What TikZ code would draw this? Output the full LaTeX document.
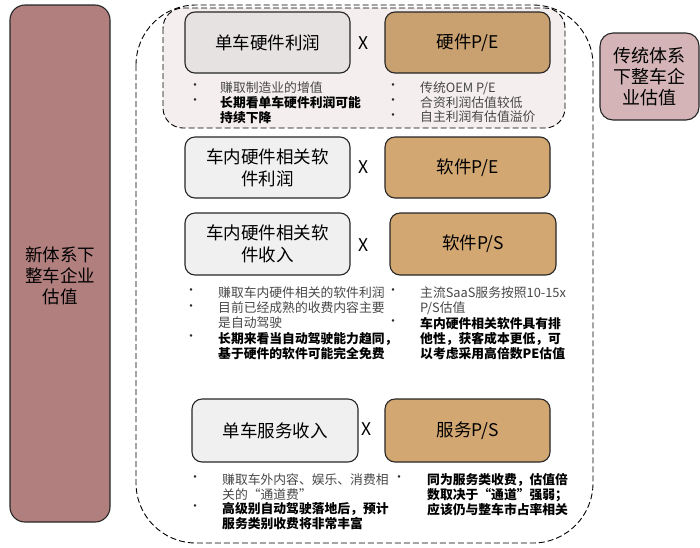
\documentclass[tikz,border=0pt]{standalone}
\usepackage{fontspec}
\setmainfont{Noto Sans CJK SC}
\definecolor{newval}{RGB}{178,127,127}
\definecolor{oldval}{RGB}{212,180,182}
\definecolor{pinkarea}{RGB}{245,238,238}
\definecolor{grayfill}{RGB}{240,240,240}
\definecolor{graytop}{RGB}{230,226,226}
\definecolor{tanfill}{RGB}{211,167,114}
\definecolor{tantop}{RGB}{201,160,111}
\begin{document}
\begin{tikzpicture}[x=1pt,y=-1pt,
  box/.style={draw=black!85, line width=1.1pt, rounded corners=10pt, inner sep=2pt,
    align=center, font=\fontsize{17.5}{22}\selectfont},
  note/.style={anchor=north west, inner sep=0pt, align=left,
    font=\fontsize{12.8}{15.2}\selectfont, text=black!72},
  bnote/.style={note, font=\fontsize{12.8}{15.2}\selectfont\bfseries, text=black},
  bulletmark/.style={inner sep=0pt, text=black!85, font=\fontsize{12}{14}\selectfont},
  times/.style={inner sep=0pt, font=\fontsize{17.5}{20}\selectfont},
  region/.style={line width=0.9pt, dash pattern=on 6pt off 3pt}
]
  \useasboundingbox (0,0) rectangle (700,547);

  % valuation labels
  \node[box, fill=newval, rounded corners=15pt, minimum width=100pt, minimum height=517pt] (newsys) at (60,263.5) {};
  \node[inner sep=0pt, align=center, font=\fontsize{17.5}{21}\selectfont] (newsyslabel) at (60,276) {新体系下\\整车企业\\估值};
  \node[box, fill=oldval, rounded corners=13pt, minimum width=99pt, minimum height=87pt,
    font=\fontsize{18}{21}\selectfont] (oldsys) at (649.5,76.5) {传统体系\\下整车企\\业估值};

  % dashed regions
  \draw[region, rounded corners=60pt] (136,5) rectangle (593,543);
  \draw[region, fill=pinkarea, rounded corners=20pt] (163,8) rectangle (565,128);

  % hardware
  \node[box, fill=graytop, minimum width=165pt, minimum height=61pt] (hwprofit) at (267.5,42.5) {单车硬件利润};
  \node[times] (x1) at (364,43) {X};
  \node[box, fill=tantop, minimum width=165pt, minimum height=61pt] (hwpe) at (467.5,42.5) {硬件P/E};
  \node[bulletmark] (b1) at (195,87) {•};
  \node[note] (n1) at (220,81) {赚取制造业的增值};
  \node[bulletmark] (b2) at (195,102) {•};
  \node[bnote] (n2) at (220,96) {长期看单车硬件利润可能\\持续下降};
  \node[bulletmark] (b3) at (393,87) {•};
  \node[note] (n3) at (420,81) {传统OEM P/E};
  \node[bulletmark] (b4) at (393,102) {•};
  \node[note] (n4) at (420,96) {合资利润估值较低};
  \node[bulletmark] (b5) at (393,117) {•};
  \node[note] (n5) at (420,111) {自主利润有估值溢价};

  % software
  \node[box, fill=grayfill, minimum width=165pt, minimum height=61pt] (swprofit) at (267.5,167.5) {车内硬件相关软\\件利润};
  \node[times] (x2) at (364,167) {X};
  \node[box, fill=tanfill, minimum width=165pt, minimum height=61pt] (swpe) at (467.5,167.5) {软件P/E};
  \node[box, fill=grayfill, minimum width=165pt, minimum height=62pt] (swincome) at (267.5,244) {车内硬件相关软\\件收入};
  \node[times] (x3) at (364,245) {X};
  \node[box, fill=tanfill, minimum width=166pt, minimum height=62pt] (swps) at (473,244) {软件P/S};
  \node[bulletmark] (b6) at (191,292) {•};
  \node[note] (n6) at (218,286) {赚取车内硬件相关的软件利润};
  \node[bulletmark] (b7) at (191,307.5) {•};
  \node[note] (n7) at (218,301.5) {目前已经成熟的收费内容主要\\是自动驾驶};
  \node[bulletmark] (b8) at (191,338) {•};
  \node[bnote] (n8) at (218,332) {长期来看当自动驾驶能力趋同，\\基于硬件的软件可能完全免费};
  \node[bulletmark] (b9) at (393,292) {•};
  \node[note] (n9) at (420,286) {主流SaaS服务按照10-15x\\P/S估值};
  \node[bulletmark] (b10) at (393,323) {•};
  \node[bnote] (n10) at (420,317) {车内硬件相关软件具有排\\他性，获客成本更低，可\\以考虑采用高倍数PE估值};

  % service
  \node[box, fill=grayfill, minimum width=166pt, minimum height=63pt] (svincome) at (275,430.5) {单车服务收入};
  \node[times] (x4) at (367,429) {X};
  \node[box, fill=tanfill, minimum width=165pt, minimum height=63pt] (svps) at (467.5,430.5) {服务P/S};
  \node[bulletmark] (b11) at (195,479) {•};
  \node[note] (n11) at (222,473) {赚取车外内容、娱乐、消费相\\关的“通道费”};
  \node[bulletmark] (b12) at (195,508) {•};
  \node[bnote] (n12) at (222,502) {高级别自动驾驶落地后，预计\\服务类别收费将非常丰富};
  \node[bulletmark] (b13) at (399,479) {•};
  \node[bnote] (n13) at (427,473) {同为服务类收费，估值倍\\数取决于“通道”强弱；\\应该仍与整车市占率相关};
\end{tikzpicture}
\end{document}
